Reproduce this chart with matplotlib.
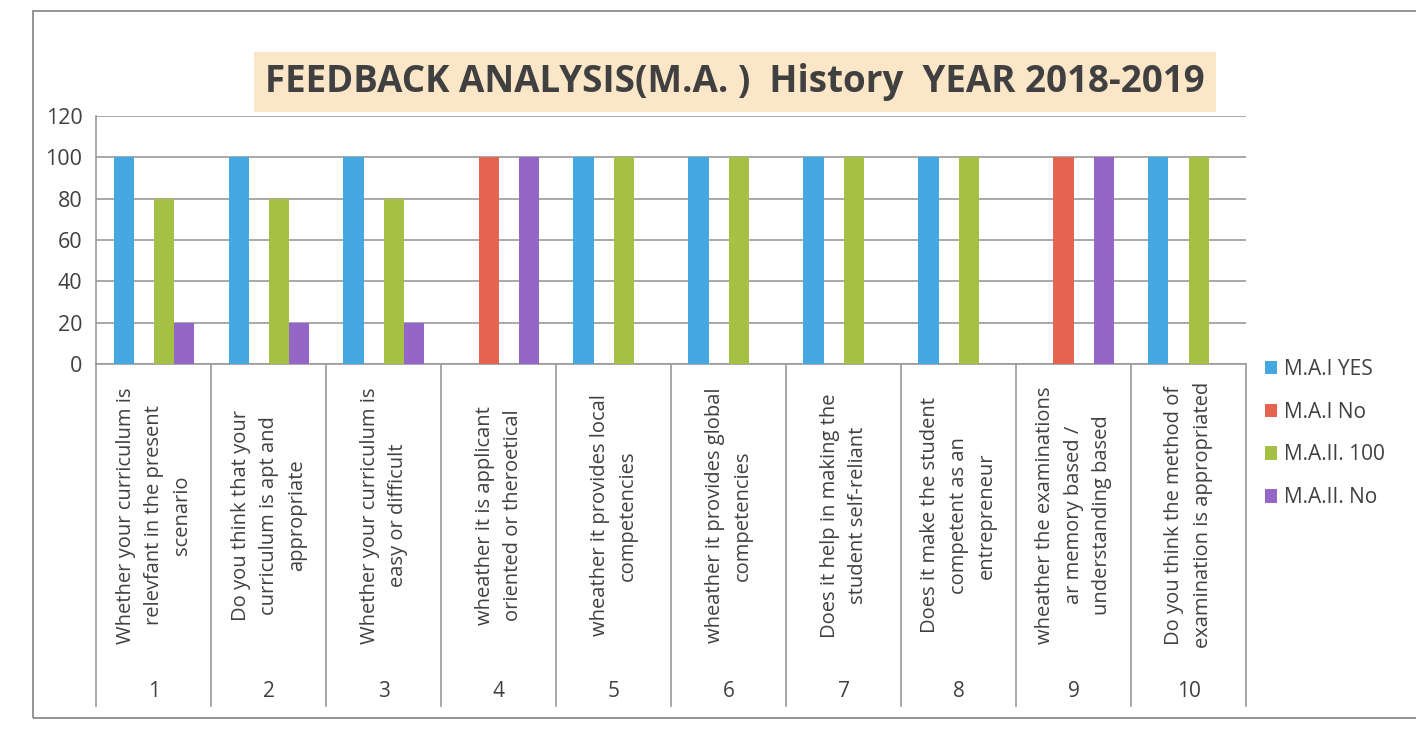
import numpy as np
import matplotlib.pyplot as plt
from matplotlib.patches import Rectangle
from matplotlib.transforms import blended_transform_factory

# Data
numbers = ['1', '2', '3', '4', '5', '6', '7', '8', '9', '10']
questions = [
    'Whether your curriculum is\nrelevfant in the present\nscenario',
    'Do you think that your\ncurriculum is apt and\nappropriate',
    'Whether your curriculum is\neasy or difficult',
    'wheather it is applicant\noriented or theroetical',
    'wheather it provides local\ncompetencies',
    'wheather it provides global\ncompetencies',
    'Does it help in making the\nstudent self-reliant',
    'Does it make the student\ncompetent as an\nentrepreneur',
    'wheather the examinations\nar memory based /\nunderstanding based',
    'Do you think the method of\nexamination is appropriated',
]
ma1_yes = [100, 100, 100, 0, 100, 100, 100, 100, 0, 100]
ma1_no = [0, 0, 0, 100, 0, 0, 0, 0, 100, 0]
ma2_100 = [80, 80, 80, 0, 100, 100, 100, 100, 0, 100]
ma2_no = [20, 20, 20, 100, 0, 0, 0, 0, 100, 0]

series = [ma1_yes, ma1_no, ma2_100, ma2_no]
names = ['M.A.I YES', 'M.A.I No', 'M.A.II. 100', 'M.A.II. No']
colors = ['#45A8E0', '#E5644F', '#A4C145', '#9466C8']

plt.rcParams['font.family'] = ['Open Sans', 'DejaVu Sans']

fig = plt.figure(figsize=(14.16, 7.4), dpi=100)
ax = fig.add_axes([0.068, 0.508, 0.812, 0.335])

x = np.arange(len(numbers))
w = 0.175
for i, (vals, name, c) in enumerate(zip(series, names, colors)):
    ax.bar(x + (i - 1.5) * w, vals, width=w, color=c, label=name, zorder=3)

ax.set_xlim(-0.5, len(numbers) - 0.5)
ax.set_ylim(0, 120)
ax.set_yticks(range(0, 121, 20))
ax.yaxis.grid(True, color='#9a9a9a', linewidth=1.2, zorder=0)
ax.tick_params(axis='y', length=0, labelsize=15.5, labelcolor='#404040', pad=10)
ax.set_xticks([])
for s in ['top', 'right']:
    ax.spines[s].set_visible(False)
ax.spines['left'].set_color('#9a9a9a')
ax.spines['bottom'].set_color('#9a9a9a')
ax.spines['left'].set_linewidth(1.2)
ax.spines['bottom'].set_linewidth(1.2)

# multi-level category labels below the axis
tr = blended_transform_factory(ax.transData, ax.transAxes)
for b in np.arange(-0.5, len(numbers), 1.0):
    ax.plot([b, b], [0, -1.38], transform=tr, color='#9a9a9a', lw=1.2, clip_on=False)
for xi, q, n in zip(x, questions, numbers):
    ax.text(xi, -0.61, q, transform=tr, rotation=90, ha='center', va='center',
            multialignment='center', fontsize=14.5, color='#404040', linespacing=1.55)
    ax.text(xi, -1.32, n, transform=tr, ha='center', va='center',
            fontsize=15, color='#404040')

# legend
ax.legend(loc='center left', bbox_to_anchor=(1.0, -0.28), frameon=False,
          fontsize=15, handlelength=0.6, handleheight=0.6, handletextpad=0.3,
          labelspacing=1.05, labelcolor='#404040')

# title with shaded box
fig.text(0.519, 0.889, 'FEEDBACK ANALYSIS(M.A. )  History  YEAR 2018-2019',
         ha='center', va='center', fontsize=26.5, fontweight='bold', color='#404040',
         bbox=dict(boxstyle='square,pad=0.3', facecolor='#FBE6C8', edgecolor='none'))

# outer chart frame
fig.patches.append(Rectangle((0.023, 0.03), 1.2, 0.955, transform=fig.transFigure,
                             fill=False, edgecolor='#8a8a8a', linewidth=1.3))

fig.savefig('out.png', dpi=100)
